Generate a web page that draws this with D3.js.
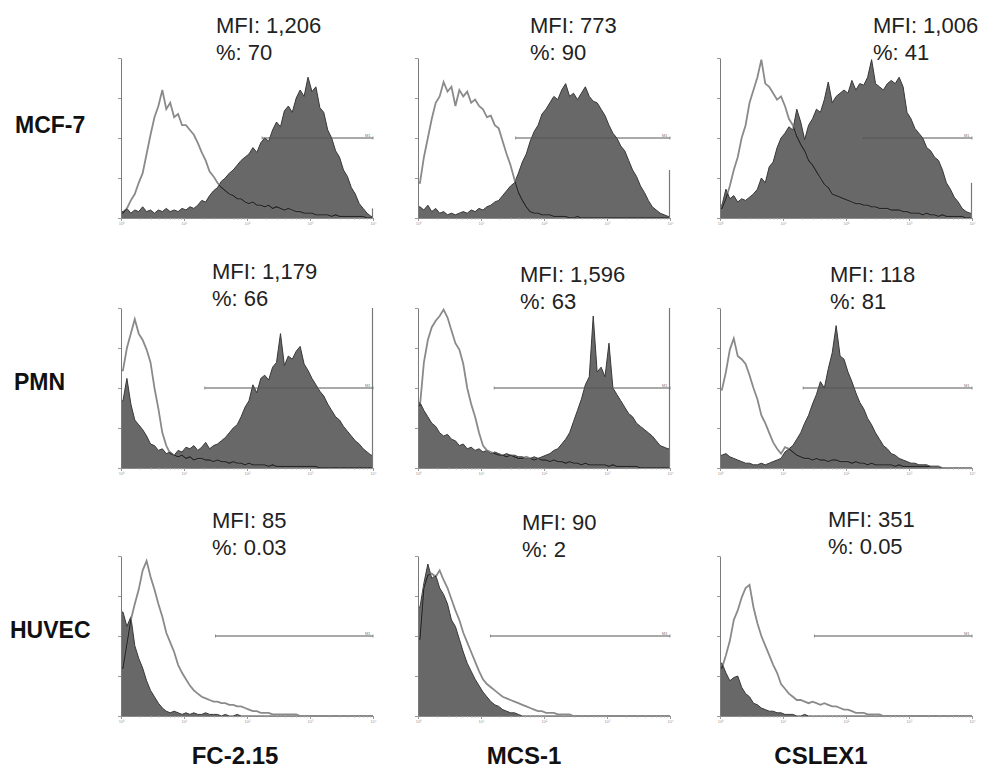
<!DOCTYPE html>
<html>
<head>
<meta charset="utf-8">
<script src="https://cdn.jsdelivr.net/npm/d3@7"></script>
<style>
body { margin: 0; background: #fff; }
text { font-family: "Liberation Sans", Arial, sans-serif; }
</style>
</head>
<body>
<div id="chart-area"></div>
<script>
// rows = cell types, columns = antibodies
var cellLines = ["MCF-7", "PMN", "HUVEC"];
var antibodies = ["FC-2.15", "MCS-1", "CSLEX1"];
var mfiLabels = [["1,206", "773", "1,006"], ["1,179", "1,596", "118"], ["85", "90", "351"]];
var pctLabels = [["70", "90", "41"], ["66", "63", "81"], ["0.03", "2", "0.05"]];
// gate start, in decades (log10 of fluorescence)
var gateStart = [[2.24, 1.55, 2.24], [1.33, 1.21, 1.32], [1.5, 1.15, 1.5]];
// pile-up in the last channel, % of full scale
var lastChannel = [[6, 30, 22], [100, 100, 0], [0, 0, 0]];

// histograms: 64 bins (16 per decade, 10^0 .. 10^4), % of y-axis full scale
var control_mcf7_fc = [3,6,11,15,22,28,40,52,63,70,80,68,72,63,65,58,
  58,55,52,47,41,36,29,26,22,19,17,15,14,12,12,10,
  9,10,8,8,7,8,6,7,6,5,6,5,4,4,3,3,
  3,2,2,2,2,1,2,1,1,1,1,1,1,1,0,0];
var stained_mcf7_fc = [4,6,3,5,4,7,4,5,3,5,4,6,4,5,4,6,
  5,7,6,8,11,10,14,17,19,23,25,28,30,33,36,38,
  40,44,41,47,50,48,55,60,57,67,70,66,75,80,76,88,
  79,82,69,66,55,50,42,38,30,26,19,15,9,6,3,1];

var control_mcf7_mcs = [22,38,50,62,72,76,85,79,82,70,80,76,79,72,74,70,
  68,63,64,58,56,48,40,33,24,16,11,7,4,3,3,2,
  2,2,1,1,1,1,0,0,1,0,0,0,0,0,0,0,
  0,0,0,0,0,0,0,0,0,0,0,0,0,0,0,0];
var stained_mcf7_mcs = [7,5,8,4,6,3,4,2,3,2,3,4,3,5,4,6,
  5,7,8,10,11,14,17,20,22,28,35,40,48,54,58,65,
  68,72,76,74,80,84,76,78,74,78,82,76,73,72,68,64,
  58,53,50,45,42,36,30,26,20,16,11,7,5,3,2,1];

var control_mcf7_cslex = [6,12,20,30,38,50,58,72,80,88,99,84,82,78,74,76,
  70,62,58,51,46,42,36,33,29,25,21,19,15,14,13,12,
  11,10,9,9,8,8,7,7,6,6,6,5,5,5,4,4,
  3,3,3,2,3,2,2,1,2,1,1,1,1,1,0,0];
var stained_mcf7_cslex = [8,18,12,14,10,12,11,13,15,18,25,22,32,35,44,50,
  53,57,55,68,60,49,58,62,68,66,74,85,72,76,78,80,
  78,86,80,84,83,88,99,84,82,80,84,86,84,88,82,66,
  62,56,53,50,44,42,38,36,30,22,18,13,10,6,4,3];

var control_pmn_fc = [61,75,84,93,84,80,74,66,50,37,22,14,9,8,7,8,
  6,7,5,6,6,5,5,4,5,4,4,3,4,3,3,2,
  3,2,2,2,2,1,2,1,1,1,1,1,1,1,1,1,
  1,1,0,0,0,0,0,0,0,0,0,0,0,0,0,0];
var stained_pmn_fc = [42,56,40,30,27,24,20,15,14,11,12,9,10,8,11,10,
  13,12,14,11,13,16,12,14,15,17,19,22,25,27,32,38,
  42,52,47,56,58,55,63,66,84,64,70,68,73,76,65,61,
  56,52,48,45,40,36,32,30,26,23,20,17,15,12,10,8];

var control_pmn_mcs = [39,66,80,88,92,95,99,94,86,78,74,65,50,40,32,22,
  14,11,10,9,8,8,7,8,7,6,6,7,6,5,6,5,
  5,4,5,4,4,3,4,3,3,2,3,2,2,2,2,2,
  1,2,1,1,1,1,1,1,0,0,0,0,0,0,0,0];
var stained_pmn_mcs = [41,36,32,28,26,22,20,21,18,17,14,15,12,13,11,12,
  10,11,9,10,9,8,9,8,8,7,7,6,6,7,6,7,
  8,9,11,12,15,18,22,29,36,43,52,57,95,60,63,57,
  78,50,46,42,38,34,32,28,26,24,22,20,17,14,13,12];

var control_pmn_cslex = [49,60,74,81,70,68,65,58,50,43,33,28,22,16,12,9,
  13,12,10,8,7,6,6,5,6,5,5,4,5,5,4,4,
  4,3,4,3,3,2,3,2,2,2,2,2,1,2,1,1,
  1,1,1,1,1,1,1,1,0,0,0,0,0,0,0,0];
var stained_pmn_cslex = [8,9,7,6,5,4,3,3,2,2,3,2,3,4,5,6,
  10,12,14,18,22,28,33,40,46,54,50,62,72,89,70,68,
  60,54,47,41,37,31,27,22,18,14,12,9,8,6,5,4,
  3,3,2,2,2,1,1,1,0,0,0,0,0,0,0,0];

var control_huvec_fc = [30,45,60,70,79,91,97,87,79,70,62,52,46,40,32,27,
  23,19,16,14,12,11,10,9,9,8,8,7,7,6,6,5,
  4,3,3,2,2,2,1,1,1,1,1,1,1,0,0,0,
  0,0,0,0,0,0,0,0,0,0,0,0,0,0,0,0];
var stained_huvec_fc = [65,56,62,44,36,30,22,16,12,8,5,3,2,3,2,1,
  2,1,2,1,1,2,1,1,1,0,1,0,0,1,0,0,
  0,0,0,0,0,0,0,0,0,0,0,0,0,0,0,0,
  0,0,0,0,0,0,0,0,0,0,0,0,0,0,0,0];

var control_huvec_mcs = [48,80,88,89,87,91,85,80,73,66,60,52,46,40,34,28,
  23,20,18,16,14,12,11,10,9,8,7,6,5,4,3,3,
  2,2,2,1,1,1,1,0,0,0,0,0,0,0,0,0,
  0,0,0,0,0,0,0,0,0,0,0,0,0,0,0,0];
var stained_huvec_mcs = [68,83,95,86,88,80,76,70,60,56,48,40,33,28,23,19,
  15,12,9,7,6,4,3,2,2,1,0,0,0,0,0,0,
  0,0,0,0,0,0,0,0,0,0,0,0,0,0,0,0,
  0,0,0,0,0,0,0,0,0,0,0,0,0,0,0,0];

var control_huvec_cslex = [30,38,47,60,66,74,80,82,68,58,50,44,38,32,27,20,
  17,14,12,10,10,9,8,9,8,7,8,7,6,6,5,4,
  4,3,2,2,2,1,1,1,1,0,0,0,0,0,0,0,
  0,0,0,0,0,0,0,0,0,0,0,0,0,0,0,0];
var stained_huvec_cslex = [33,27,22,24,25,18,14,12,8,7,5,4,3,3,2,2,
  1,1,1,0,0,1,0,0,0,0,0,0,0,0,0,0,
  0,0,0,0,0,0,0,0,0,0,0,0,0,0,0,0,
  0,0,0,0,0,0,0,0,0,0,0,0,0,0,0,0];

var controls = [[control_mcf7_fc, control_mcf7_mcs, control_mcf7_cslex],
                [control_pmn_fc, control_pmn_mcs, control_pmn_cslex],
                [control_huvec_fc, control_huvec_mcs, control_huvec_cslex]];
var stained = [[stained_mcf7_fc, stained_mcf7_mcs, stained_mcf7_cslex],
               [stained_pmn_fc, stained_pmn_mcs, stained_pmn_cslex],
               [stained_huvec_fc, stained_huvec_mcs, stained_huvec_cslex]];

// layout
var W = 983, H = 770;
var colLeft = [121, 418, 720];
var rowTop = [58, 308, 556];
var pw = 252, ph = 160;
var textX = [[216, 530, 873], [212, 520, 830], [212, 522, 828]];
var textY = [[33, 33, 33], [279, 282, 282], [528, 530, 527]];
var rowLabelX = [15, 14, 10], rowLabelY = [133, 390, 638];
var colLabelX = [235, 524, 821], colLabelY = 764;
var binsPerDecade = 16;

var svg = d3.select("#chart-area").append("svg")
    .attr("width", W)
    .attr("height", H);

var x = d3.scaleLog().domain([1, 10000]).range([0, pw]);
var y = d3.scaleLinear().domain([0, 100]).range([ph, 0]);

// one point per bin centre, plus the two ends of the axis
function binPoints(vals) {
    var pts = vals.map(function(v, i) {
        return { c: Math.pow(10, (i + 0.5) / binsPerDecade), v: v };
    });
    pts.unshift({ c: 1, v: vals[0] });
    pts.push({ c: 10000, v: vals[vals.length - 1] });
    return pts;
}

var area = d3.area()
    .x(function(d) { return x(d.c); })
    .y0(ph)
    .y1(function(d) { return y(d.v); });
var line = d3.line()
    .x(function(d) { return x(d.c); })
    .y(function(d) { return y(d.v); });

var sup = ["\u2070", "\u00b9", "\u00b2", "\u00b3", "\u2074"];
var minorTicks = [];
[1, 10, 100, 1000].forEach(function(k) {
    for (var m = 2; m <= 9; m++) minorTicks.push(m * k);
});

function drawPanel(r, c) {
    var g = svg.append("g")
        .attr("transform", "translate(" + colLeft[c] + "," + rowTop[r] + ")");
    var ctrl = binPoints(controls[r][c]);
    var stn = binPoints(stained[r][c]);
    var clipId = "clip-" + r + "-" + c;

    g.append("clipPath").attr("id", clipId)
        .append("path").attr("d", area(stn));

    // stained (filled) histogram
    g.append("path").attr("d", area(stn)).attr("fill", "#686868");
    g.append("path").attr("d", line(stn))
        .attr("fill", "none").attr("stroke", "#383838").attr("stroke-width", 1);

    // control (open) histogram, darker where it runs over the fill
    g.append("path").attr("d", line(ctrl))
        .attr("fill", "none").attr("stroke", "#8a8a8a").attr("stroke-width", 1.8);
    g.append("path").attr("d", line(ctrl))
        .attr("fill", "none").attr("stroke", "#262626").attr("stroke-width", 1.3)
        .attr("clip-path", "url(#" + clipId + ")");

    // last channel pile-up
    if (lastChannel[r][c] > 0) {
        g.append("line")
            .attr("x1", pw - 0.5).attr("x2", pw - 0.5)
            .attr("y1", y(0)).attr("y2", y(lastChannel[r][c]))
            .attr("stroke", "#777").attr("stroke-width", 1.2);
    }

    // axes
    var ya = g.append("g").call(d3.axisLeft(y).tickValues([0, 25, 50, 75, 100])
        .tickSize(3).tickSizeOuter(0).tickFormat(""));
    ya.select(".domain").attr("stroke", "#7a7a7a");
    ya.selectAll(".tick line").attr("stroke", "#999");

    var xm = g.append("g").attr("transform", "translate(0," + ph + ")")
        .call(d3.axisBottom(x).tickValues(minorTicks).tickSize(1.5).tickSizeOuter(0).tickFormat(""));
    xm.select(".domain").attr("stroke", "#8a8a8a");
    xm.selectAll(".tick line").attr("stroke", "#aaa");

    var xa = g.append("g").attr("transform", "translate(0," + ph + ")")
        .call(d3.axisBottom(x).tickValues([1, 10, 100, 1000, 10000])
            .tickSize(3).tickSizeOuter(0).tickPadding(1)
            .tickFormat(function(d) { return "10" + sup[Math.round(Math.log10(d))]; }));
    xa.select(".domain").remove();
    xa.selectAll(".tick line").attr("stroke", "#999");
    xa.selectAll(".tick text").attr("font-size", 4).attr("fill", "#999");

    // M1 gate
    var gx0 = x(Math.pow(10, gateStart[r][c]));
    g.append("line")
        .attr("x1", gx0).attr("x2", pw).attr("y1", y(50)).attr("y2", y(50))
        .attr("stroke", "#555").attr("stroke-width", 1);
    [gx0, pw].forEach(function(xx) {
        g.append("line").attr("x1", xx).attr("x2", xx)
            .attr("y1", y(50) - 1.5).attr("y2", y(50) + 1.5)
            .attr("stroke", "#777").attr("stroke-width", 0.8);
    });
    g.append("text").attr("x", pw - 8).attr("y", y(50) - 1.5)
        .attr("font-size", 4).attr("fill", "#777").text("M1");

    // stats
    svg.append("text").attr("x", textX[r][c]).attr("y", textY[r][c])
        .attr("font-size", 22).attr("fill", "#222").text("MFI: " + mfiLabels[r][c]);
    svg.append("text").attr("x", textX[r][c]).attr("y", textY[r][c] + 27)
        .attr("font-size", 22).attr("fill", "#222").text("%: " + pctLabels[r][c]);
}

for (var r = 0; r < 3; r++) {
    for (var c = 0; c < 3; c++) drawPanel(r, c);
}

svg.selectAll(".row-label").data(cellLines).enter().append("text")
    .attr("class", "row-label")
    .attr("x", function(d, i) { return rowLabelX[i]; })
    .attr("y", function(d, i) { return rowLabelY[i]; })
    .attr("font-size", 23).attr("font-weight", "bold").attr("fill", "#111")
    .text(function(d) { return d; });

svg.selectAll(".col-label").data(antibodies).enter().append("text")
    .attr("class", "col-label")
    .attr("x", function(d, i) { return colLabelX[i]; })
    .attr("y", colLabelY)
    .attr("text-anchor", "middle")
    .attr("font-size", 24).attr("font-weight", "bold").attr("fill", "#111")
    .text(function(d) { return d; });
</script>
</body>
</html>
